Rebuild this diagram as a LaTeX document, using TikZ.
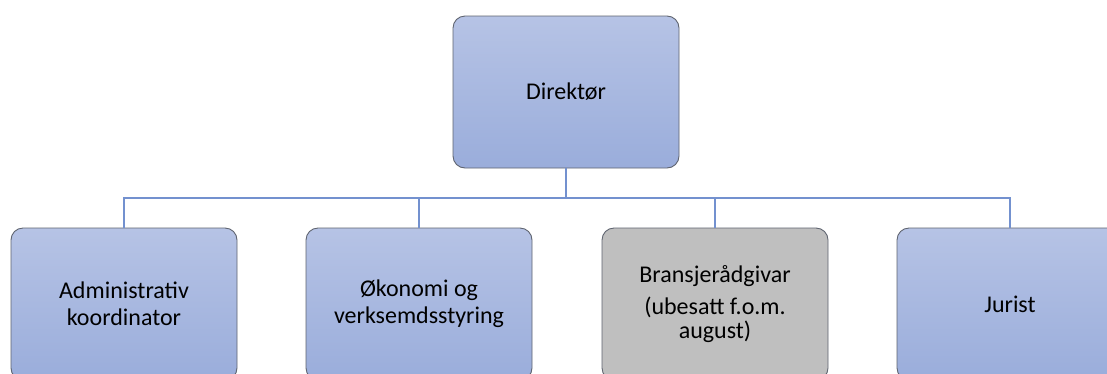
\documentclass[tikz,border=0pt]{standalone}
\usepackage{fontspec}
\setmainfont{Carlito}
\definecolor{boxtop}{HTML}{B6C3E5}
\definecolor{boxbot}{HTML}{9AADDB}
\definecolor{boxline}{HTML}{5F6470}
\definecolor{conn}{HTML}{7391CF}
\definecolor{greybox}{HTML}{BFBFBF}
\tikzset{
  orgbox/.style={draw=boxline, line width=0.9pt, rounded corners=12pt,
    top color=boxtop, bottom color=boxbot,
    minimum width=226pt, minimum height=152pt, align=center,
    font=\fontsize{24}{27}\selectfont, inner sep=0pt},
  greyorg/.style={orgbox, top color=greybox, bottom color=greybox},
  connline/.style={draw=conn, line width=2.2pt}
}
\begin{document}
\begin{tikzpicture}[x=1pt,y=-1pt]
\useasboundingbox (0,0) rectangle (1107,373);
\clip (0,0) rectangle (1107,373);
\fill[white] (0,0) rectangle (1107,373);
\coordinate (hy) at (0,198);
\node[orgbox] (dir) at (566,92) {Direktør};
\node[orgbox] (a) at (124,304) {Administrativ\\koordinator};
\node[orgbox] (b) at (419,304) {Økonomi og\\verksemdsstyring};
\node[greyorg] (c) at (715,304) {Bransjerådgivar\\[5pt](ubesatt f.o.m.\\[-3pt]august)};
\node[orgbox] (d) at (1010,304) {Jurist};
\draw[connline] (dir.south) -- (dir.south |- hy);
\draw[connline] (a.north) -- (a.north |- hy) -- (d.north |- hy) -- (d.north);
\draw[connline] (b.north) -- (b.north |- hy);
\draw[connline] (c.north) -- (c.north |- hy);
\end{tikzpicture}
\end{document}
